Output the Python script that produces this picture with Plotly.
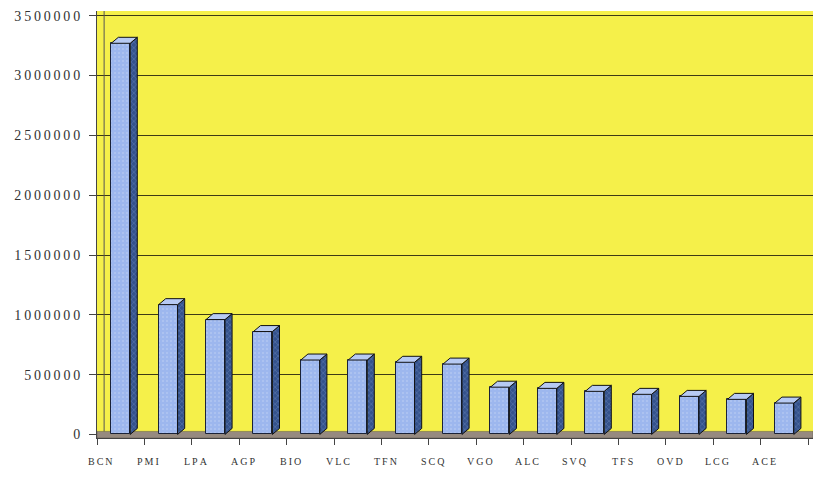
import plotly.graph_objects as go

# Passenger traffic per airport
airports = ["BCN", "PMI", "LPA", "AGP", "BIO", "VLC", "TFN", "SCQ",
            "VGO", "ALC", "SVQ", "TFS", "OVD", "LCG", "ACE"]
passengers = [3270000, 1085000, 960000, 860000, 622000, 622000, 603000, 588000,
              395000, 385000, 360000, 335000, 318000, 293000, 262000]
y_ticks = [0, 500000, 1000000, 1500000, 2000000, 2500000, 3000000, 3500000]

# pseudo-3D geometry (in data units)
BAR_W = 0.40
DEPTH_X = 0.15
DEPTH_Y = 50000
X_MAX = 14.605
Y_MIN, Y_MAX = -30000, 3540000
LABEL_SHIFT = -0.42

x_idx = list(range(len(airports)))


def spaced(s, sep="\u2009"):
    return sep.join(str(s))


side_x, side_y, top_x, top_y = [], [], [], []
for i, v in zip(x_idx, passengers):
    left, right = i - BAR_W / 2, i + BAR_W / 2
    side_x += [right, right, right + DEPTH_X, right + DEPTH_X, right, None]
    side_y += [0, v, v + DEPTH_Y, DEPTH_Y, 0, None]
    top_x += [left, right, right + DEPTH_X, left + DEPTH_X, left, None]
    top_y += [v, v, v + DEPTH_Y, v + DEPTH_Y, v, None]

fig = go.Figure()

# front faces
fig.add_trace(go.Bar(
    x=x_idx, y=passengers, width=BAR_W,
    marker=dict(color="#9db7ee", line=dict(color="#1a2238", width=1),
                pattern=dict(shape=".", fgcolor="#c6d5f6", bgcolor="#9db7ee",
                             size=4, solidity=0.2)),
    hoverinfo="skip", showlegend=False,
))

# side faces
fig.add_trace(go.Scatter(
    x=side_x, y=side_y, mode="lines", fill="toself", fillcolor="#34528c",
    fillpattern=dict(shape="x", fgcolor="#8ea6d8", bgcolor="#34528c",
                     size=4, solidity=0.25),
    line=dict(color="#111111", width=1), hoverinfo="skip", showlegend=False,
))

# top faces
fig.add_trace(go.Scatter(
    x=top_x, y=top_y, mode="lines", fill="toself", fillcolor="#b7caf3",
    line=dict(color="#111111", width=1), hoverinfo="skip", showlegend=False,
))

serif = "Liberation Serif, Times New Roman, serif"

# category labels under the floor
labels = [
    dict(x=i + LABEL_SHIFT, y=-0.056, xref="x", yref="paper",
         text=spaced(a), showarrow=False,
         xanchor="center", yanchor="middle",
         font=dict(family=serif, size=10, color="#333333"))
    for i, a in zip(x_idx, airports)
]

fig.update_layout(
    width=813, height=477,
    margin=dict(l=97, r=0, t=11, b=39, autoexpand=False),
    paper_bgcolor="white",
    plot_bgcolor="#f5f04a",
    showlegend=False,
    bargap=0,
    xaxis=dict(
        range=[-0.5, X_MAX], automargin=False,
        tickmode="array", tickvals=[i - 0.5 for i in range(len(airports) + 1)],
        ticks="outside", ticklen=6, tickcolor="#444444",
        showticklabels=False,
        showline=True, linecolor="#444444", linewidth=1,
        showgrid=False, zeroline=False,
    ),
    yaxis=dict(
        range=[Y_MIN, Y_MAX], automargin=False,
        tickmode="array", tickvals=y_ticks, ticktext=[spaced(t) for t in y_ticks],
        ticks="outside", ticklen=7, tickcolor="#444444", ticklabelstandoff=6,
        tickfont=dict(family=serif, size=14, color="#333333"),
        showline=True, linecolor="#444444", linewidth=1,
        showgrid=True, gridcolor="#3d3a16", gridwidth=1.4, zeroline=False,
    ),
    annotations=labels,
    shapes=[
        # floor
        dict(type="rect", xref="x", yref="y", x0=-0.5, x1=X_MAX,
             y0=Y_MIN, y1=25000, fillcolor="#968a80",
             line=dict(color="#5a5248", width=0.5), layer="between"),
        # back-wall corner
        dict(type="line", xref="x", yref="y", x0=-0.5 + DEPTH_X, x1=-0.5 + DEPTH_X,
             y0=25000, y1=Y_MAX, line=dict(color="#555555", width=1),
             layer="between"),
    ],
)

fig.write_html("out.html")
